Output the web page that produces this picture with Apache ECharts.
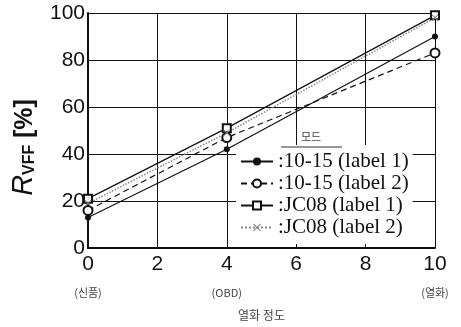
<!DOCTYPE html>
<html><head><meta charset="utf-8">
<script src="https://cdn.jsdelivr.net/npm/echarts@6/dist/echarts.min.js"></script>
<style>html,body{margin:0;padding:0;background:#fff}#c{width:461px;height:327px}</style>
</head><body><div id="c"></div>
<script>
// data
const xValues = [0, 4, 10];
const subLabels = {0: '(신품)', 4: '(OBD)', 10: '(열화)'};
const seriesNames = [':10-15 (label 1)', ':10-15 (label 2)', ':JC08 (label 1)', ':JC08 (label 2)'];
const s1015L1 = [13, 42, 90];
const s1015L2 = [16, 47, 83];
const sJC08L1 = [21, 51, 99];
const sJC08L2 = [19, 49, 98];
const legendTitle = '모드';
const xName = '열화 정도';

const pts = arr => xValues.map((x, i) => [x, arr[i]]);
const crossPath = 'path://M0,1 L1,0 L5,4 L9,0 L10,1 L6,5 L10,9 L9,10 L5,6 L1,10 L0,9 L4,5Z';

const chart = echarts.init(document.getElementById('c'), null, {renderer: 'canvas'});
const ink = '#111';
chart.setOption({
  animation: false,
  backgroundColor: '#fff',
  grid: {left: 88, right: 26, top: 13, bottom: 79, containLabel: false},
  xAxis: {
    type: 'value', min: 0, max: 10, interval: 2,
    name: xName, nameLocation: 'middle', nameGap: 61,
    nameTextStyle: {fontSize: 12, color: '#444', fontFamily: 'Noto Sans CJK KR'},
    axisLine: {lineStyle: {color: ink, width: 2}},
    axisTick: {show: false},
    splitLine: {lineStyle: {color: ink, width: 1}},
    axisLabel: {
      margin: 4,
      formatter: v => subLabels[v] ? '{v|' + v + '}\n{s|' + subLabels[v] + '}' : '{v|' + v + '}',
      rich: {
        v: {fontSize: 21, color: ink, fontFamily: 'Liberation Sans', lineHeight: 25},
        s: {fontSize: 11, color: '#444', fontFamily: 'Noto Sans CJK KR', lineHeight: 32}
      }
    }
  },
  yAxis: {
    type: 'value', min: 0, max: 100, interval: 20,
    name: '{r|R}{sub|VFF}  {p|[%]}', nameLocation: 'middle', nameGap: 50, nameRotate: 90,
    nameTextStyle: {
      padding: [0, 34, 0, 0],
      rich: {
        r: {fontSize: 29, fontStyle: 'italic', color: ink, fontFamily: 'Liberation Sans', lineHeight: 32, verticalAlign: 'bottom'},
        sub: {fontSize: 16, fontWeight: 'bold', color: ink, fontFamily: 'Liberation Sans', lineHeight: 26, verticalAlign: 'bottom'},
        p: {fontSize: 25, fontWeight: 'bold', color: ink, fontFamily: 'Liberation Sans', lineHeight: 32, verticalAlign: 'bottom'}
      }
    },
    axisLine: {show: true, lineStyle: {color: ink, width: 2}},
    axisTick: {show: false},
    splitLine: {lineStyle: {color: ink, width: 1}},
    axisLabel: {fontSize: 21, color: ink, fontFamily: 'Liberation Sans', margin: 3}
  },
  legend: {
    orient: 'vertical', left: 236, top: 145,
    padding: [6, 4, 6, 4], itemGap: 1, itemWidth: 32, itemHeight: 10,
    backgroundColor: '#fff',
    textStyle: {fontFamily: 'Liberation Serif', fontSize: 21, color: ink},
    data: seriesNames
  },
  graphic: [
    {type: 'text', left: 301, top: 131, z: 10, style: {text: legendTitle, fontSize: 11, fill: '#444', fontFamily: 'Noto Sans CJK KR'}},
    {type: 'line', z: 10, shape: {x1: 281, y1: 147, x2: 342, y2: 147}, style: {stroke: '#333', lineWidth: 1}}
  ],
  series: [
    {name: seriesNames[0], type: 'line', data: pts(s1015L1), symbol: 'circle', symbolSize: 6, clip: false,
      lineStyle: {color: ink, width: 1.2}, itemStyle: {color: ink}},
    {name: seriesNames[1], type: 'line', data: pts(s1015L2), symbol: 'emptyCircle', symbolSize: 9, clip: false,
      lineStyle: {color: ink, width: 1.2, type: [6, 4]}, itemStyle: {color: ink, borderColor: ink, borderWidth: 1.2}},
    {name: seriesNames[2], type: 'line', data: pts(sJC08L1), symbol: 'emptyRect', symbolSize: 8, clip: false,
      lineStyle: {color: ink, width: 1.2}, itemStyle: {color: ink, borderColor: ink, borderWidth: 1.2}},
    {name: seriesNames[3], type: 'line', data: pts(sJC08L2), symbol: crossPath, symbolSize: 7, clip: false,
      lineStyle: {color: '#888', width: 1.5, type: 'dotted'}, itemStyle: {color: '#888'}}
  ]
});
</script></body></html>
